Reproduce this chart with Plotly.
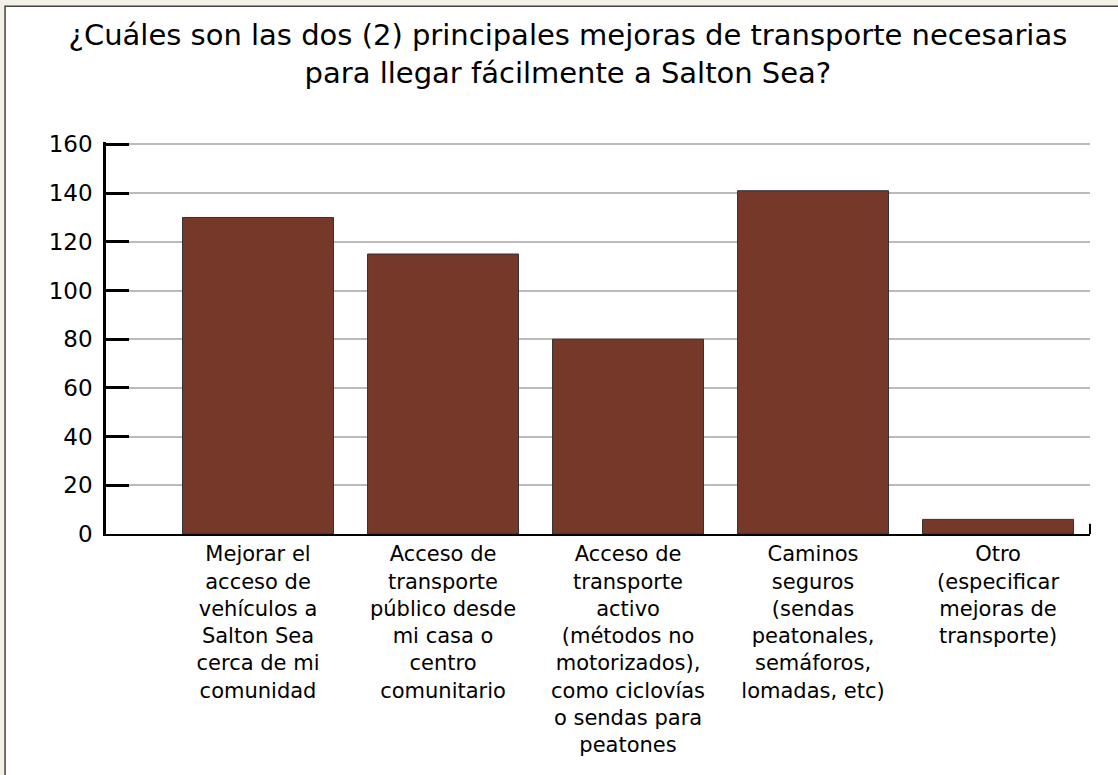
import plotly.graph_objs as go

# survey answers
categorias = [
    "Mejorar el<br>acceso de<br>vehículos a<br>Salton Sea<br>cerca de mi<br>comunidad",
    "Acceso de<br>transporte<br>público desde<br>mi casa o<br>centro<br>comunitario",
    "Acceso de<br>transporte<br>activo<br>(métodos no<br>motorizados),<br>como ciclovías<br>o sendas para<br>peatones",
    "Caminos<br>seguros<br>(sendas<br>peatonales,<br>semáforos,<br>lomadas, etc)",
    "Otro<br>(especificar<br>mejoras de<br>transporte)",
]
respuestas = [130, 115, 80, 141, 6]
y_ticks = [0, 20, 40, 60, 80, 100, 120, 140, 160]

titulo = "¿Cuáles son las dos (2) principales mejoras de transporte necesarias<br>para llegar fácilmente a Salton Sea?"

FONT = "DejaVu Sans"
BEIGE = "#f4efe7"

fig = go.Figure()
fig.add_trace(go.Bar(
    x=list(range(len(categorias))),
    y=respuestas,
    marker=dict(color="#763828", line=dict(color="#333333", width=1)),
    hoverinfo="y",
))

fig.update_layout(
    width=1118, height=775,
    margin=dict(l=106, r=28, t=142, b=241),
    paper_bgcolor=BEIGE,
    plot_bgcolor="white",
    font=dict(family=FONT, color="black"),
    bargap=0.184,
    showlegend=False,
    title=dict(text=titulo, x=0.508, xref="container", xanchor="center",
               y=0.942, yref="container", yanchor="top",
               font=dict(family=FONT, size=29, color="black")),
)

fig.update_xaxes(
    range=[-0.8216, 4.497],
    tickmode="array",
    tickvals=list(range(len(categorias))),
    ticktext=categorias,
    tickfont=dict(size=21),
    showline=True, linecolor="black", linewidth=2,
    showgrid=False, ticks="",
)
fig.update_yaxes(
    range=[0, 161],
    tickmode="array",
    tickvals=y_ticks,
    tickfont=dict(size=23),
    ticklabelstandoff=6,
    showline=True, linecolor="black", linewidth=2.5,
    ticks="inside", ticklen=23, tickwidth=3, tickcolor="black",
    showgrid=True, gridcolor="#bbbbbb", gridwidth=1.5,
    zeroline=False,
)

# white card with a thin border behind the chart
fig.add_shape(type="rect", xref="paper", yref="paper",
              x0=-0.1026, x1=1.04, y0=-0.7, y1=1.346,
              fillcolor="white", line=dict(color="#444444", width=1.5),
              layer="below")
# little end tick on the right of the x axis
fig.add_shape(type="line", xref="paper", yref="paper",
              x0=1.0, x1=1.0, y0=0, y1=0.026,
              line=dict(color="black", width=2))

fig.write_html("out.html", config={"displayModeBar": False},
               post_script="document.body.style.margin='0';document.body.style.background='%s';" % BEIGE)
